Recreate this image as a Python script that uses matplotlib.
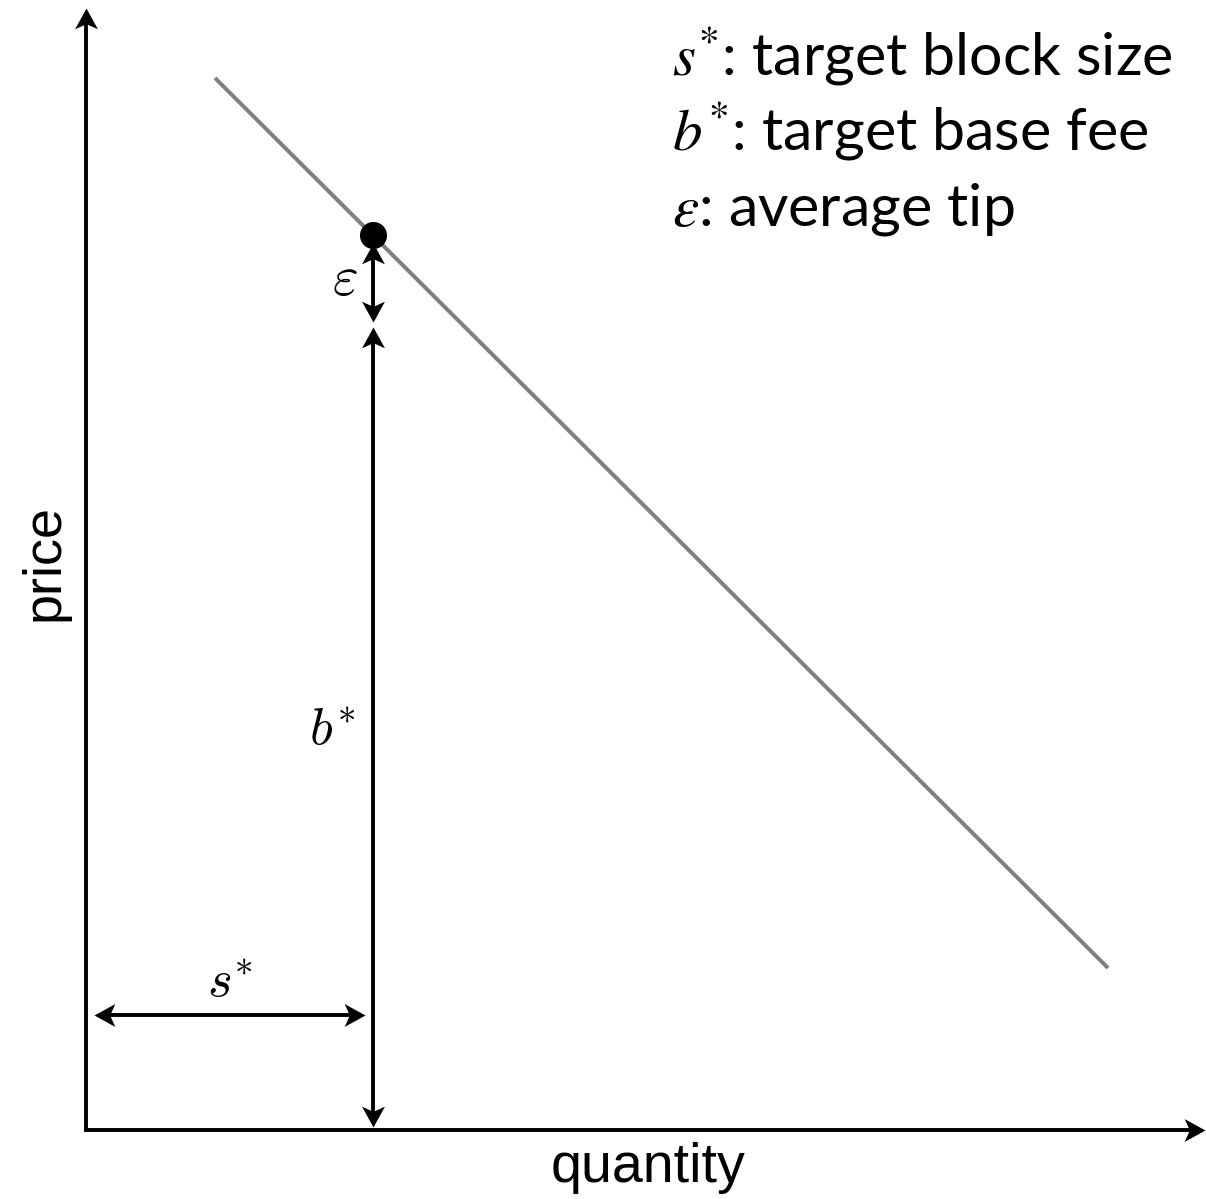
import matplotlib
matplotlib.use("Agg")
import matplotlib.pyplot as plt
from matplotlib.path import Path
from matplotlib.markers import MarkerStyle
from matplotlib.transforms import Affine2D
import numpy as np

# Demand curve (quantity, price) endpoints
demand_q = [1.29, 10.22]
demand_p = [10.52, 1.62]

# Target block size, target base fee and average tip
s_star = 2.87
b_star = 8.05
eps = 0.90

# Height of the horizontal s* dimension arrow
s_arrow_price = 1.15

legend_lines = [
    ("$s^{*}$", ": target block size"),
    ("$b^{*}$", ": target base fee"),
    ("$\\varepsilon$", ": average tip"),
]

fig = plt.figure(figsize=(12.06, 11.99), dpi=100)
ax = fig.add_axes([0, 0, 1, 1])
ax.set_xlim(-0.86, 11.20)
ax.set_ylim(-0.69, 11.30)
ax.axis("off")

HEAD = Path([(0, 0), (-1, 0.55), (-0.75, 0), (-1, -0.55), (0, 0)],
            [Path.MOVETO, Path.LINETO, Path.LINETO, Path.LINETO, Path.CLOSEPOLY])
LW = 2.8
BACK = 0.12


def head(x, y, angle, size=30):
    m = MarkerStyle(HEAD, transform=Affine2D().rotate_deg(angle))
    ax.plot([x], [y], marker=m, markersize=size, color="black",
            markeredgewidth=0, linestyle="none", zorder=4)


def double_arrow(p0, p1):
    p0 = np.asarray(p0, float)
    p1 = np.asarray(p1, float)
    d = (p1 - p0) / np.linalg.norm(p1 - p0)
    a = p0 + d * BACK
    b = p1 - d * BACK
    ax.plot([a[0], b[0]], [a[1], b[1]], color="black", lw=LW,
            solid_capstyle="butt", zorder=3)
    ang = np.degrees(np.arctan2(d[1], d[0]))
    head(p1[0], p1[1], ang)
    head(p0[0], p0[1], ang + 180)


# Coordinate axes with arrowheads
x_tip, y_tip = 11.19, 11.22
ax.plot([0, 0, x_tip - BACK], [y_tip - BACK, 0, 0], color="black", lw=LW,
        solid_joinstyle="miter", solid_capstyle="butt", zorder=3)
head(x_tip, 0, 0)
head(0, y_tip, 90)

# Demand curve
ax.plot(demand_q, demand_p, color="#808080", lw=2.9, solid_capstyle="butt", zorder=2)

# Equilibrium point
ax.plot([s_star], [b_star + eps], "o", color="black", markersize=18.5, zorder=5)

# Dimension arrows
double_arrow((s_star, b_star + 0.03), (s_star, b_star + eps - 0.08))
double_arrow((s_star, 0.03), (s_star, b_star - 0.02))
double_arrow((0.08, s_arrow_price), (s_star - 0.08, s_arrow_price))

ax.text(s_star - 0.28, b_star + eps / 2, "$\\varepsilon$", fontsize=40,
        math_fontfamily="cm", ha="center", va="center")
ax.text(s_star - 0.41, b_star / 2 - 0.02, "$b^{*}$", fontsize=38,
        math_fontfamily="cm", ha="center", va="center")
ax.text(s_star / 2, s_arrow_price + 0.33, "$s^{*}$", fontsize=38,
        math_fontfamily="cm", ha="center", va="center")

# Axis labels
ax.text(-0.41, 5.68, "price", rotation=90, fontsize=39, family="Liberation Sans",
        ha="center", va="center")
ax.text(5.62, -0.38, "quantity", fontsize=40, family="Liberation Sans",
        ha="center", va="center")

# Symbol legend
for i, (sym, desc) in enumerate(legend_lines):
    ax.text(5.86, 10.55 - 0.75 * i, sym + desc, fontsize=42.5, family="Lato",
            math_fontfamily="stix", ha="left", va="baseline")

fig.savefig("out.png", dpi=100)
